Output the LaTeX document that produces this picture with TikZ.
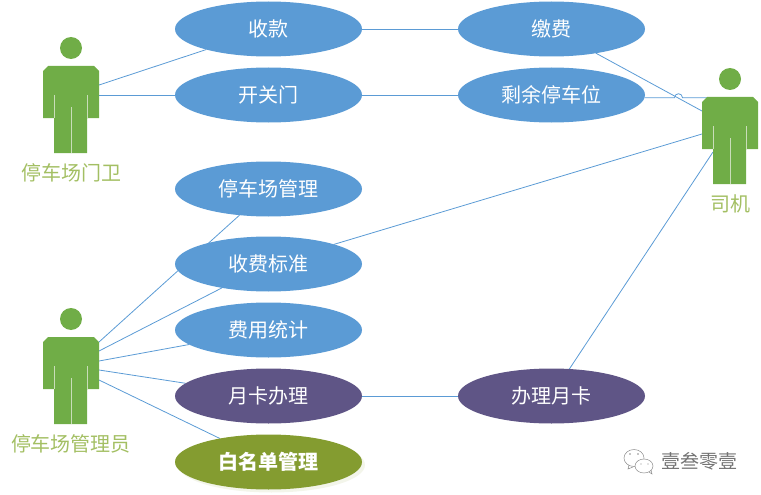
\documentclass[tikz,border=0pt]{standalone}
\usepackage{fontspec}
\setmainfont{Noto Sans CJK SC}
\usepackage{xcolor}
\usetikzlibrary{positioning,shapes.geometric,shadows,backgrounds}
\definecolor{caseblue}{HTML}{5B9BD5}
\definecolor{casepurple}{HTML}{5F5586}
\definecolor{caseolive}{HTML}{849C30}
\definecolor{actorgreen}{HTML}{70AD47}
\definecolor{actorslit}{HTML}{C9DDB9}
\definecolor{actortext}{HTML}{A3BF63}
\tikzset{
  usecase/.style={ellipse, fill=caseblue, text=white, inner sep=0pt, outer sep=0pt, minimum width=187pt, minimum height=55pt, font=\fontsize{20}{22}\selectfont},
  cardcase/.style={usecase, fill=casepurple},
  listcase/.style={usecase, fill=caseolive, font=\fontsize{20}{22}\selectfont\bfseries, drop shadow={shadow xshift=3pt, shadow yshift=-3pt, fill=caseolive!10, opacity=1}},
  link/.style={draw=caseblue, line width=0.8pt},
  actorlabel/.style={text=actortext, inner sep=0pt, font=\fontsize{20}{22}\selectfont},
  wechat/.style={ellipse, draw=black!45, line width=0.5pt, inner sep=0pt, fill=white},
  actor/.pic={
    \fill[actorgreen] (0,-18) circle[radius=11pt];
    \fill[actorgreen] (-28,5) -- (-23,0) -- (23,0) -- (28,5) -- (28,52) -- (16,52) -- (16,87) -- (-17,87) -- (-17,52) -- (-28,52) -- cycle;
    \draw[actorslit, line width=0.8pt] (-17,29) -- (-17,52) (16,29) -- (16,52) (0,41) -- (0,87);
    \node[minimum width=56pt, minimum height=87pt, inner sep=0pt, outer sep=0pt] (-body) at (0,43.5) {};
  }
}
\begin{document}
\begin{tikzpicture}[x=1pt, y=-1pt, node distance=11pt and 96pt]
  \useasboundingbox (0,0) rectangle (761,495);
  % use cases
  \node[usecase] (charge) at (268.5,29) {收款};
  \node[usecase, below=of charge] (gatectl) {开关门};
  \node[usecase, right=of charge] (pay) {缴费};
  \node[usecase, right=of gatectl] (spaces) {剩余停车位};
  \node[usecase, below=39pt of gatectl] (manage) {停车场管理};
  \node[usecase, below=20pt of manage] (tariff) {收费标准};
  \node[usecase, below=of tariff] (stats) {费用统计};
  \node[cardcase, below=of stats] (cardadmin) {月卡办理};
  \node[cardcase, right=of cardadmin] (cardapply) {办理月卡};
  \node[listcase, below=of cardadmin] (whitelist) {白名单管理};

  % actors
  \pic (gate) at (71,66) {actor};
  \pic (driver) at (730,97) {actor};
  \pic (admin) at (71,337) {actor};
  \node[actorlabel] (gatename) at (71,173) {停车场门卫};
  \node[actorlabel] (drivername) at (730,204) {司机};
  \node[actorlabel] (adminname) at (71,444) {停车场管理员};

  % connectors
  \begin{scope}[on background layer]
    \draw[link] ([yshift=24.5pt]gate-body.east) -- (charge);
    \draw[link] ([yshift=14.5pt]gate-body.east) -- (gatectl);
    \draw[link] (charge) -- (pay);
    \draw[link] (gatectl) -- (spaces);
    \draw[link] (pay) -- ([yshift=29.5pt]driver-body.west);
    \coordinate (jump) at (678.5,97.7);
    \draw[link] ([yshift=-2.7pt]spaces.east) -- ([xshift=-4pt]jump) arc[start angle=180, end angle=0, radius=4pt] -- ([xshift=5pt, yshift=42.8pt]driver-body.west);
    \draw[link] (tariff) -- ([yshift=6.5pt]driver-body.west);
    \draw[link] (cardapply) -- ([xshift=11pt, yshift=-11.5pt]driver-body.west);
    \draw[link] ([yshift=38.5pt]admin-body.east) -- (manage);
    \draw[link] ([yshift=29.5pt]admin-body.east) -- (tariff);
    \draw[link] ([yshift=19.5pt]admin-body.east) -- (stats);
    \draw[link] ([yshift=10.5pt]admin-body.east) -- (cardadmin);
    \draw[link] ([yshift=0.5pt]admin-body.east) -- (whitelist);
    \draw[link] (cardadmin) -- (cardapply);
  \end{scope}

  % watermark
  \node[wechat, minimum width=20pt, minimum height=17pt] (wechatback) at (634,458) {};
  \draw[black!45, line width=0.5pt] (629,465) -- (628,469) -- (633,467);
  \node[wechat, minimum width=18pt, minimum height=14pt] (wechatfront) at (644,466) {};
  \draw[black!45, line width=0.5pt] (649,472) -- (652,474) -- (651,470);
  \fill[black!45] (630,454) circle[radius=0.8pt] (638,454) circle[radius=0.8pt] (641,464) circle[radius=0.7pt] (648,464) circle[radius=0.7pt];
  \node[text=black!55, inner sep=0pt, font=\fontsize{19}{22}\selectfont] (account) at (699,461) {壹叁零壹};
\end{tikzpicture}
\end{document}
